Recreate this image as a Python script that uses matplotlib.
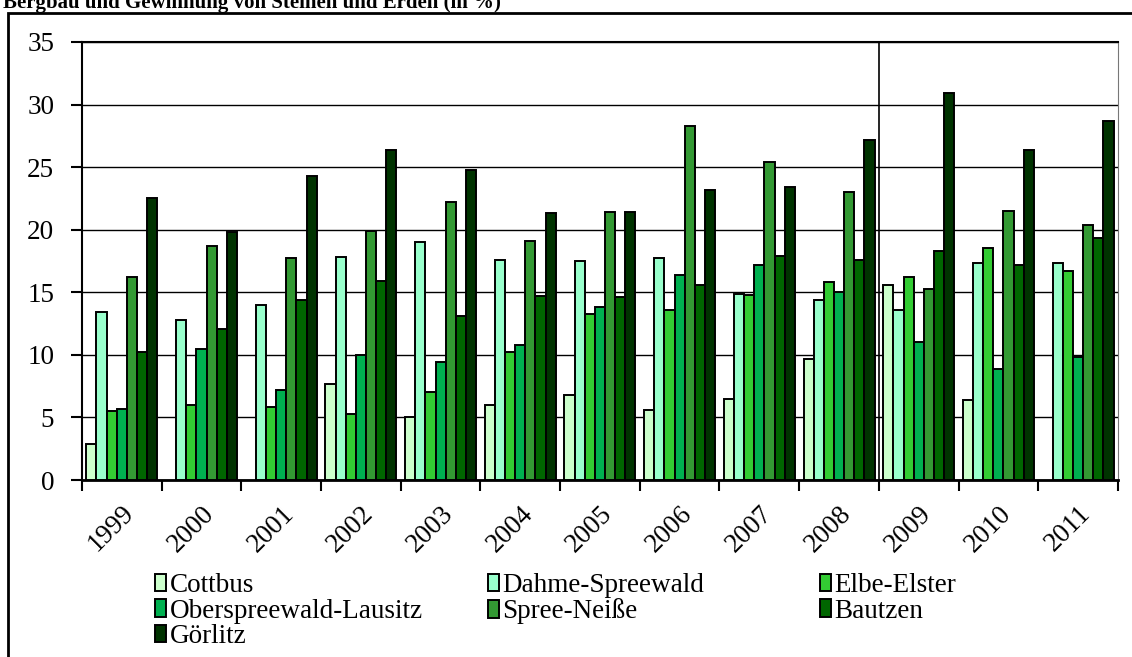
import numpy as np
import matplotlib.pyplot as plt
from matplotlib.patches import Rectangle

plt.rcParams['font.family'] = ['Liberation Serif', 'DejaVu Serif']

# daten
jahre = ['1999', '2000', '2001', '2002', '2003', '2004', '2005',
         '2006', '2007', '2008', '2009', '2010', '2011']

cottbus = [2.9, np.nan, np.nan, 7.7, 5.0, 6.0, 6.8, 5.6, 6.5, 9.7, 15.6, 6.4, np.nan]
dahme = [13.4, 12.8, 14.0, 17.8, 19.0, 17.6, 17.5, 17.7, 14.9, 14.4, 13.6, 17.3, 17.3]
elbe = [5.5, 6.0, 5.8, 5.3, 7.0, 10.2, 13.3, 13.6, 14.8, 15.8, 16.2, 18.5, 16.7]
osl = [5.7, 10.5, 7.2, 10.0, 9.4, 10.8, 13.8, 16.4, 17.2, 15.0, 11.0, 8.9, 9.8]
spree_neisse = [16.2, 18.7, 17.7, 19.9, 22.2, 19.1, 21.4, 28.3, 25.4, 23.0, 15.3, 21.5, 20.4]
bautzen = [10.2, 12.1, 14.4, 15.9, 13.1, 14.7, 14.6, 15.6, 17.9, 17.6, 18.3, 17.2, 19.3]
goerlitz = [22.5, 19.8, 24.3, 26.4, 24.8, 21.3, 21.4, 23.2, 23.4, 27.2, 30.9, 26.4, 28.7]

namen = ['Cottbus', 'Dahme-Spreewald', 'Elbe-Elster', 'Oberspreewald-Lausitz',
         'Spree-Neiße', 'Bautzen', 'Görlitz']
reihen = [cottbus, dahme, elbe, osl, spree_neisse, bautzen, goerlitz]
farben = ['#CCFFCC', '#99FFCC', '#33CC33', '#00B050', '#339933', '#006600', '#003300']

# figur
fig = plt.figure(figsize=(11.32, 6.57), dpi=100)
ax = fig.add_axes([0.0724, 0.2694, 0.9152, 0.6667])

x = np.arange(len(jahre))
breite = 0.89 / 7
bars = []
for i, (werte, name, farbe) in enumerate(zip(reihen, namen, farben)):
    b = ax.bar(x - 0.445 + breite * (i + 0.5), werte, width=breite, color=farbe,
               edgecolor='black', linewidth=1.4, label=name, zorder=3)
    bars.append(b)

ax.set_xlim(-0.5, len(jahre) - 0.5)
ax.set_ylim(0, 35)
ax.set_yticks(np.arange(0, 36, 5))
ax.yaxis.grid(True, color='black', linewidth=1.0, zorder=0)
ax.axvline(9.5, color='black', linewidth=1.2, zorder=2)

ax.set_xticks(x)
ax.set_xticklabels(jahre, rotation=45, ha='right', va='top', rotation_mode='anchor')
ax.set_xticks(np.arange(-0.5, len(jahre)), minor=True)
ax.tick_params(axis='x', which='major', length=0, pad=15, labelsize=19.5)
ax.tick_params(axis='x', which='minor', length=8, width=1.5, direction='out')
ax.tick_params(axis='y', length=8, width=1.5, direction='out', pad=12, labelsize=19.5)

ax.spines['left'].set_linewidth(1.5)
ax.spines['bottom'].set_linewidth(2)
ax.spines['top'].set_linewidth(1.5)
ax.spines['right'].set_color('#777777')

# legende in drei spalten
spalten = [([0, 3, 6], 155 / 1132), ([1, 4], 488 / 1132), ([2, 5], 820 / 1132)]
for idx, xpos in spalten:
    leg = fig.legend([bars[k] for k in idx], [namen[k] for k in idx],
                     loc='upper left', bbox_to_anchor=(xpos, 1 - 573 / 657),
                     frameon=False, fontsize=19.5, handlelength=0.42, handleheight=0.6,
                     handletextpad=0.12, labelspacing=0.02, borderaxespad=0, borderpad=0)

# rahmen und abgeschnittener titel
fig.patches.append(Rectangle((8 / 1132, -0.05), 1.2, 1 - 13 / 657 + 0.05,
                             transform=fig.transFigure, fill=False,
                             edgecolor='black', linewidth=2))
fig.text(0.003, 1 - 8 / 657, 'Bergbau und Gewinnung von Steinen und Erden (in %)',
         fontsize=15, fontweight='bold', va='baseline')

fig.savefig('out.png', dpi=100)
